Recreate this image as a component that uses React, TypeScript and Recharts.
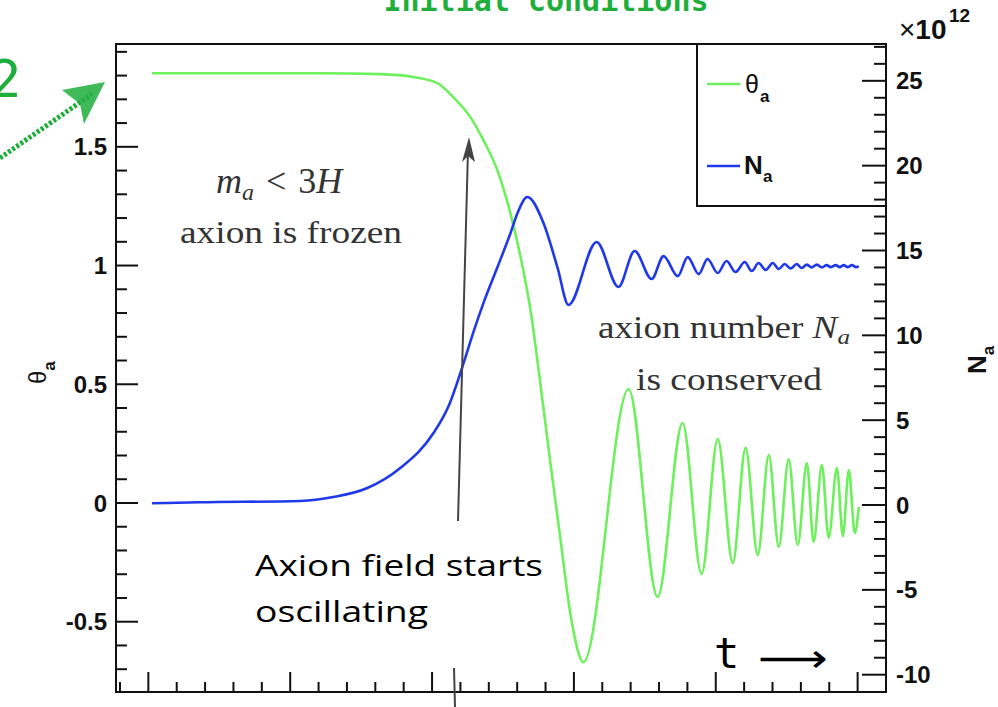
import React from 'react';
import { LineChart, Line, XAxis, YAxis } from 'recharts';

// time axis (arbitrary units; one unit = one minor tick)
const thetaT = [0.13, 1.82, 3.94, 6.06, 8.18, 9.34, 10.19, 10.75, 11.35, 11.81, 12.30, 12.76, 13.12, 13.47, 13.82, 14.17, 14.53, 14.88, 15.34, 16.93, 17.95, 18.83, 19.50, 20.07, 20.60, 21.05, 21.48, 21.87, 22.22, 22.57, 22.89, 23.21, 23.45, 23.74, 23.98, 24.27, 24.48, 24.69, 24.90, 25.04];
const thetaV = [1.81, 1.81, 1.81, 1.81, 1.806, 1.794, 1.768, 1.709, 1.625, 1.528, 1.402, 1.221, 1.036, 0.813, 0.50, 0.17, -0.156, -0.47, -0.67, 0.48, -0.396, 0.337, -0.299, 0.269, -0.253, 0.232, -0.219, 0.202, -0.185, 0.185, -0.177, 0.168, -0.164, 0.16, -0.147, 0.147, -0.139, 0.139, -0.126, -0.017];

const nT = [0.13, 1.82, 5.35, 6.52, 7.72, 8.88, 10.05, 10.60, 11.10, 11.46, 11.81, 12.30, 12.76, 13.01, 13.36, 13.93, 14.42, 14.81, 15.80, 16.57, 17.14, 17.74, 18.16, 18.66, 19.01, 19.40, 19.71, 20.07, 20.38, 20.70, 21.02, 21.27, 21.51, 21.76, 22.01, 22.22, 22.43, 22.64, 22.85, 23.03, 23.21, 23.38, 23.56, 23.74, 23.91, 24.05, 24.23, 24.37, 24.51, 24.65, 24.80, 24.94, 25.04];
const nV = [0.1, 0.16, 0.24, 0.47, 1.0, 2.18, 4.24, 5.9, 8.3, 10.2, 11.9, 14.0, 16.0, 17.2, 18.15, 16.6, 14.0, 11.79, 15.5, 12.85, 14.97, 13.32, 14.67, 13.49, 14.61, 13.61, 14.5, 13.67, 14.38, 13.73, 14.32, 13.79, 14.26, 13.85, 14.26, 13.91, 14.2, 13.94, 14.2, 13.97, 14.17, 14.0, 14.17, 14.0, 14.14, 14.02, 14.14, 14.02, 14.14, 14.02, 14.14, 14.02, 14.08];

const xTicks = [-1, 0, 1, 2, 3, 4, 5, 6, 7, 8, 9, 10, 11, 12, 13, 14, 15, 16, 17, 18, 19, 20, 21, 22, 23, 24, 25, 26];
const thetaTicks = [-0.7, -0.6, -0.5, -0.4, -0.3, -0.2, -0.1, 0, 0.1, 0.2, 0.3, 0.4, 0.5, 0.6, 0.7, 0.8, 0.9, 1, 1.1, 1.2, 1.3, 1.4, 1.5, 1.6, 1.7, 1.8, 1.9];
const nTicks = [-10, -9, -8, -7, -6, -5, -4, -3, -2, -1, 0, 1, 2, 3, 4, 5, 6, 7, 8, 9, 10, 11, 12, 13, 14, 15, 16, 17, 18, 19, 20, 21, 22, 23, 24, 25, 26, 27];

const thetaData = thetaT.map((t, i) => ({ t, v: thetaV[i] }));
const nData = nT.map((t, i) => ({ t, v: nV[i] }));

const GREEN = '#6cf05c';
const BLUE = '#1f38ea';
const INK = '#111';
const SANS = '"Liberation Sans", Arial, Helvetica, sans-serif';
const SERIF = '"Liberation Serif", "DejaVu Serif", serif';
const ANN = '#1fae3c';

function LeftTick(props: any) {
  const { x, y, payload } = props;
  const v = payload.value;
  const major = Math.abs(v * 2 - Math.round(v * 2)) < 1e-6;
  return (
    <g>
      <line x1={x} y1={y} x2={x + (major ? 22 : 11)} y2={y} stroke={INK} strokeWidth={2} />
      {major && (
        <text x={x - 9} y={y} dy="0.36em" textAnchor="end" fontFamily={SANS} fontWeight="bold" fontSize={24} fill={INK}>
          {String(v)}
        </text>
      )}
    </g>
  );
}

function RightTick(props: any) {
  const { x, y, payload } = props;
  const v = payload.value;
  const major = v % 5 === 0;
  return (
    <g>
      <line x1={x} y1={y} x2={x - (major ? 24 : 12)} y2={y} stroke={INK} strokeWidth={2} />
      {major && (
        <text x={x + 10} y={y} dy="0.36em" textAnchor="start" fontFamily={SANS} fontWeight="bold" fontSize={24} fill={INK}>
          {String(v)}
        </text>
      )}
    </g>
  );
}

function BottomTick(props: any) {
  const { x, y, payload } = props;
  const v = payload.value;
  const major = v % 5 === 0;
  return <line x1={x} y1={y} x2={x} y2={y - (major ? 20 : 10)} stroke={INK} strokeWidth={2} />;
}

export default function App() {
  return (
    <div style={{ position: 'absolute', left: 0, top: 0, width: 998, height: 707, background: '#fff' }}>
      <div style={{ position: 'absolute', left: 0, top: 0 }}>
        <LineChart width={998} height={707} margin={{ top: 44, right: 111, bottom: 14, left: 115 }}>
          <XAxis
            type="number"
            dataKey="t"
            domain={[-1.14, 26]}
            allowDataOverflow
            ticks={xTicks}
            interval={0}
            height={1}
            tickSize={0}
            tickMargin={0}
            axisLine={false}
            tickLine={false}
            tick={<BottomTick />}
          />
          <YAxis
            yAxisId="theta"
            type="number"
            domain={[-0.796, 1.933]}
            allowDataOverflow
            ticks={thetaTicks}
            interval={0}
            width={1}
            tickSize={0}
            tickMargin={0}
            axisLine={false}
            tickLine={false}
            tick={<LeftTick />}
          />
          <YAxis
            yAxisId="n"
            orientation="right"
            type="number"
            domain={[-11.02, 27.17]}
            allowDataOverflow
            ticks={nTicks}
            interval={0}
            width={1}
            tickSize={0}
            tickMargin={0}
            axisLine={false}
            tickLine={false}
            tick={<RightTick />}
          />
          <Line
            yAxisId="theta"
            data={thetaData}
            dataKey="v"
            type="monotone"
            stroke={GREEN}
            strokeWidth={2.6}
            dot={false}
            isAnimationActive={false}
          />
          <Line
            yAxisId="n"
            data={nData}
            dataKey="v"
            type="monotone"
            stroke={BLUE}
            strokeWidth={2.6}
            dot={false}
            isAnimationActive={false}
          />
        </LineChart>
      </div>
      <svg width={998} height={707} style={{ position: 'absolute', left: 0, top: 0, pointerEvents: 'none' }}>
        {/* frame */}
        <rect x={116} y={44} width={770} height={648} fill="none" stroke={INK} strokeWidth={2} />
        {/* legend */}
        <rect x={697} y={44} width={189} height={162} fill="none" stroke={INK} strokeWidth={2} />
        <line x1={707} y1={84} x2={740} y2={84} stroke={GREEN} strokeWidth={2.6} />
        <text x={745} y={93} fontFamily={SANS} fontSize={25} fill={INK}>θ</text>
        <text x={760} y={102} fontFamily={SANS} fontWeight="bold" fontSize={17} fill={INK}>a</text>
        <line x1={707} y1={166} x2={740} y2={166} stroke={BLUE} strokeWidth={2.6} />
        <text x={744} y={174} fontFamily={SANS} fontWeight="bold" fontSize={26} fill={INK}>N</text>
        <text x={763} y={182} fontFamily={SANS} fontWeight="bold" fontSize={17} fill={INK}>a</text>

        {/* exponent */}
        <text x={899} y={39} fontFamily={SANS} fontSize={28} fill={INK}>
          ×<tspan fontWeight="bold">10</tspan>
        </text>
        <text x={949} y={22} fontFamily={SANS} fontWeight="bold" fontSize={19} fill={INK}>12</text>

        {/* axis titles */}
        <text transform="translate(46,384) rotate(-90)" fontFamily={SANS} fontSize={24} fill={INK}>
          θ<tspan fontSize={17} fontWeight="bold" dy={9}>a</tspan>
        </text>
        <text transform="translate(986,374) rotate(-90)" fontFamily={SANS} fontWeight="bold" fontSize={26} fill={INK}>
          N<tspan fontSize={17} dy={8}>a</tspan>
        </text>

        {/* annotations */}
        <text x={216} y={193} fontFamily={SERIF} fontSize={36} fill="#333">
          <tspan fontStyle="italic">m</tspan>
          <tspan fontStyle="italic" fontSize={24} dy={7}>a</tspan>
          <tspan dy={-7} dx={12}>&lt;</tspan>
          <tspan dx={12}>3</tspan>
          <tspan fontStyle="italic">H</tspan>
        </text>
        <text x={180} y={243} fontFamily={SERIF} fontSize={31} fill="#333" textLength={222} lengthAdjust="spacingAndGlyphs">
          axion is frozen
        </text>
        <text x={598} y={338} fontFamily={SERIF} fontSize={31} fill="#333" textLength={252} lengthAdjust="spacingAndGlyphs">
          axion number <tspan fontStyle="italic">N</tspan>
          <tspan fontStyle="italic" fontSize={21} dy={6}>a</tspan>
        </text>
        <text x={636} y={390} fontFamily={SERIF} fontSize={31} fill="#333" textLength={186} lengthAdjust="spacingAndGlyphs">
          is conserved
        </text>

        <line x1={458} y1={521} x2={468} y2={150} stroke="#444" strokeWidth={2} />
        <polygon points="462,162 469,137 475,162 468,156" fill="#444" />
        <line x1={454} y1={668} x2={455} y2={707} stroke="#444" strokeWidth={2} />

        <text x={255} y={576} fontFamily={'"Open Sans", "Lato", sans-serif'} fontSize={30} fill="#000" textLength={288} lengthAdjust="spacingAndGlyphs">
          Axion field starts
        </text>
        <text x={255} y={622} fontFamily={'"Open Sans", "Lato", sans-serif'} fontSize={30} fill="#000" textLength={173} lengthAdjust="spacingAndGlyphs">
          oscillating
        </text>

        <text x={714} y={668} fontFamily={'"DejaVu Sans Mono", monospace'} fontSize={42} fill="#000">t</text>
        <text x={758} y={672} fontFamily={'"DejaVu Sans", sans-serif'} fontSize={40} fill="#000" textLength={70} lengthAdjust="spacingAndGlyphs">⟶</text>

        {/* green slide annotations */}
        <text x={546} y={11} textAnchor="middle" fontFamily={'"DejaVu Sans Mono", monospace'} fontWeight="bold" fontSize={30} fill={ANN}>
          Initial conditions
        </text>
        <text x={-10} y={97} fontFamily={'"DejaVu Sans Mono", monospace'} fontSize={52} fill={ANN}>2</text>
        <line x1={0} y1={158} x2={92} y2={94} stroke={ANN} strokeWidth={5} strokeDasharray="3 2" />
        <polygon points="62,90 105,82 84,124 80,104" fill={ANN} opacity={0.85} />
      </svg>
    </div>
  );
}
